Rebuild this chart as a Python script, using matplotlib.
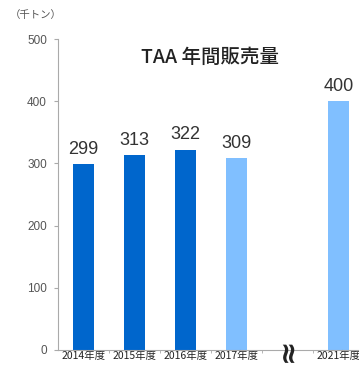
import matplotlib
matplotlib.use("Agg")
import matplotlib.pyplot as plt

plt.rcParams['font.family'] = ['Noto Sans CJK JP', 'DejaVu Sans']

categories = ["2014年度", "2015年度", "2016年度", "2017年度", "", "2021年度"]
values = [299, 313, 322, 309, None, 400]
colors = ["#0066cc", "#0066cc", "#0066cc", "#80bfff", None, "#80bfff"]
yticks = [0, 100, 200, 300, 400, 500]

fig = plt.figure(figsize=(3.59, 3.67), dpi=100)
ax = fig.add_axes([58/359, 17/367, 306/359, 311/367])

xs = list(range(len(categories)))
for x, v, c in zip(xs, values, colors):
    if v is None:
        continue
    ax.bar(x, v, width=0.4, color=c)
    ax.text(x, v + 10, str(v), ha='center', va='bottom', fontsize=13,
            color='#333333', family=['Liberation Sans', 'DejaVu Sans'])

ax.set_xlim(-0.5, len(categories) - 0.5)
ax.set_ylim(0, 500)
ax.set_yticks(yticks)
ax.set_yticklabels([str(t) for t in yticks], fontsize=8.5, color='#555555',
                   family=['Liberation Sans', 'DejaVu Sans'])
ax.set_xticks(xs)
ax.set_xticklabels(categories, fontsize=7.5, color='#222222')
ax.set_xticks([x + 0.5 for x in xs[:-1]], minor=True)
ax.tick_params(axis='x', which='major', length=0, pad=1)
ax.tick_params(axis='x', which='minor', length=2, color='#aaaaaa')
ax.tick_params(axis='y', length=3, color='#aaaaaa', pad=5)

for s in ['top', 'right']:
    ax.spines[s].set_visible(False)
ax.spines['left'].set_color('#aaaaaa')
ax.spines['bottom'].set_color('#aaaaaa')

ax.text(4, 0, "≈", ha='center', va='center', fontsize=21, color='#222222',
        rotation=90, fontweight='bold', family=['DejaVu Sans'])

fig.text(210/359, 1 - 57/367, "TAA 年間販売量", ha='center', va='center',
         fontsize=14, fontweight='medium', color='#222222')
fig.text(36/359, 1 - 15/367, "（千トン）", ha='center', va='center',
         fontsize=7.5, color='#555555')

fig.savefig("out.png", dpi=100)
